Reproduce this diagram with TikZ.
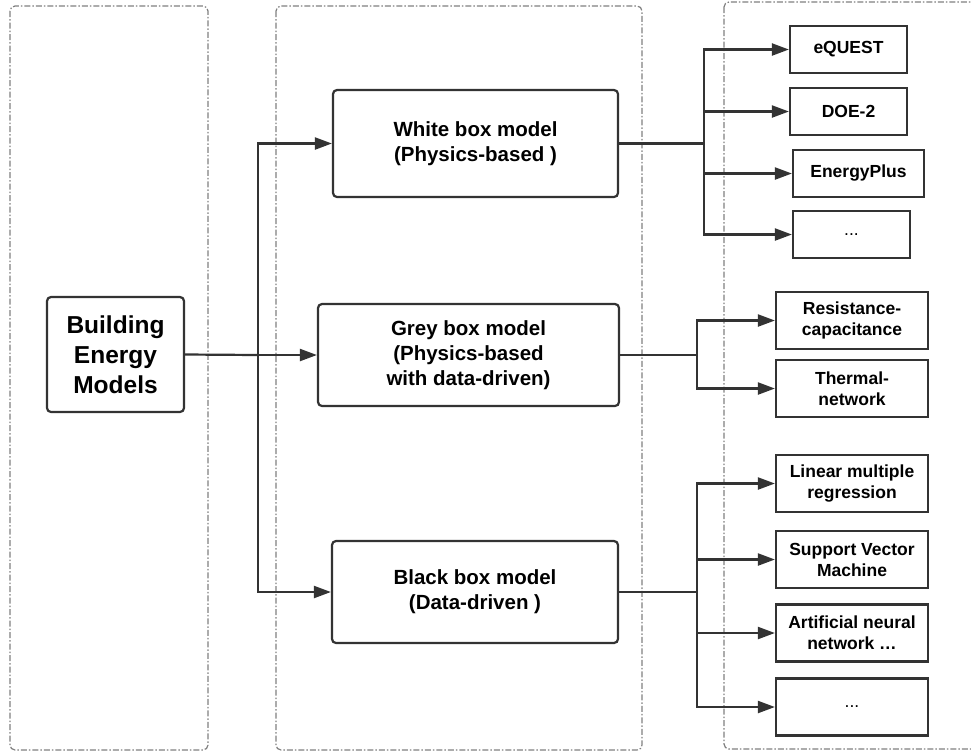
\documentclass[tikz,border=0pt]{standalone}
\usepackage{fontspec}
\setmainfont{Liberation Sans}
\usetikzlibrary{arrows.meta}
\definecolor{ink}{HTML}{333333}
\definecolor{frame}{HTML}{808080}
\tikzset{
  group/.style={draw=frame,line width=1.2pt,rounded corners=5pt,
    dash pattern=on 6pt off 2pt on 1.5pt off 2pt},
  modelbox/.style={draw=ink,line width=2.2pt,rounded corners=4pt,align=center,
    text=black,font=\bfseries\fontsize{20.5}{25}\selectfont},
  toolbox/.style={draw=ink,line width=2.2pt,align=center,text=black,
    minimum width=152pt,minimum height=57pt,inner sep=0pt,
    font=\bfseries\fontsize{17.5}{21}\selectfont},
  link/.style={draw=ink,line width=2.2pt},
  arrow/.style={link,-{Triangle[length=17pt,width=12pt]}}
}
\begin{document}
\begin{tikzpicture}[x=1pt,y=-1pt]
\useasboundingbox (0,0) rectangle (971,753);
\clip (0,0) rectangle (971,753);
% dashed columns
\draw[group] (10,6) rectangle (208,750);
\draw[group] (276,6) rectangle (642,750);
\draw[group] (724,2) rectangle (990,749);

% root
\node[modelbox,minimum width=137pt,minimum height=115pt,inner sep=0pt,
  font=\bfseries\fontsize{24.5}{30}\selectfont] (bem) at (115.5,354.5)
  {Building\\Energy\\Models};

% model classes
\node[modelbox,minimum width=285pt,minimum height=107pt,inner sep=0pt] (white) at (475.5,143.5)
  {White box model\\(Physics-based )};
\node[modelbox,minimum width=301pt,minimum height=102pt,inner sep=0pt] (grey) at (468.5,355)
  {Grey box model\\(Physics-based\\ with data-driven)};
\node[modelbox,minimum width=286pt,minimum height=102pt,inner sep=0pt] (black) at (475,592)
  {Black box model\\(Data-driven )};

% tools
\node[toolbox,minimum width=117pt,minimum height=47pt] (equest) at (848.5,49.5) {eQUEST};
\node[toolbox,minimum width=117pt,minimum height=47pt] (doe) at (848.5,111.5) {DOE-2};
\node[toolbox,minimum width=131pt,minimum height=47pt] (eplus) at (858.5,173.5) {EnergyPlus};
\node[toolbox,minimum width=117pt,minimum height=47pt] (wdots) at (851.5,234.5) {\fontseries{m}\selectfont ...};
\node[toolbox] (rc) at (852,320.5) {Resistance-\\capacitance};
\node[toolbox] (thermal) at (852,388.5) {Thermal-\\network};
\node[toolbox] (lmr) at (852,483.5) {Linear multiple\\regression};
\node[toolbox] (svm) at (852,559.5) {Support Vector\\Machine};
\node[toolbox] (ann) at (852,633) {Artificial neural\\network …};
\node[toolbox] (bdots) at (852,707) {\fontseries{m}\selectfont ...};

% junctions
\coordinate (mj) at (258,355);
\coordinate (wj) at (704,143.5);
\coordinate (gj) at (697,355);
\coordinate (bj) at (697,592);

\draw[link] (bem.east) -- (mj);
\draw[arrow] (mj) |- (white.west);
\draw[arrow] (mj) -- (grey.west);
\draw[arrow] (mj) |- (black.west);

\draw[link] (white.east) -- (wj);
\foreach \t in {equest,doe,eplus,wdots}
  \draw[arrow] (wj) |- (\t.west);

\draw[link] (grey.east) -- (gj);
\foreach \t in {rc,thermal}
  \draw[arrow] (gj) |- (\t.west);

\draw[link] (black.east) -- (bj);
\foreach \t in {lmr,svm,ann,bdots}
  \draw[arrow] (bj) |- (\t.west);
\end{tikzpicture}
\end{document}
